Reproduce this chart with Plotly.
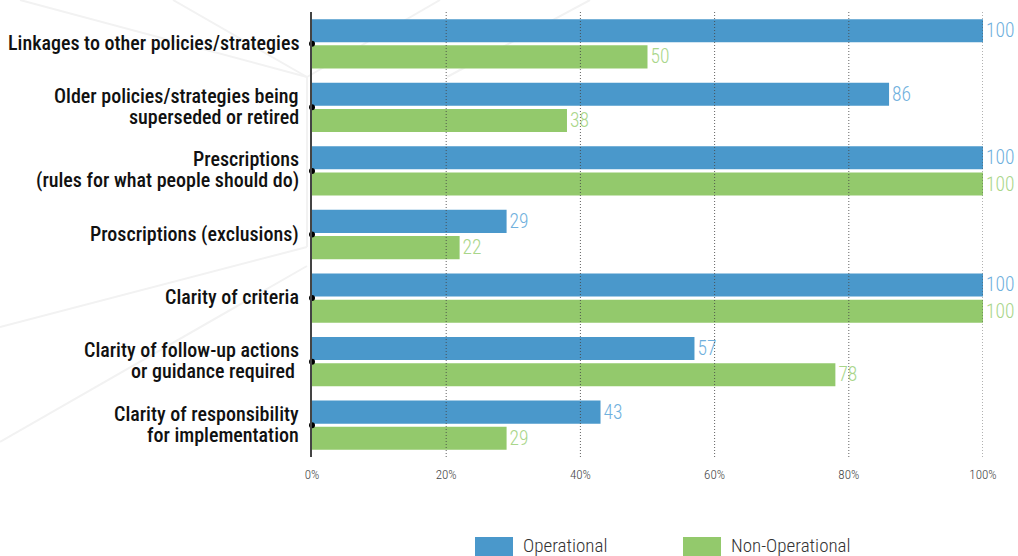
import plotly.graph_objects as go

# ---- data ----
categories = [
    "Linkages to other policies/strategies",
    "Older policies/strategies being<br>superseded or retired",
    "Prescriptions<br>(rules for what people should do)",
    "Proscriptions (exclusions)",
    "Clarity of criteria",
    "Clarity of follow-up actions<br>or guidance required\u00a0",
    "Clarity of responsibility<br>for implementation",
]
operational = [100, 86, 100, 29, 100, 57, 43]
non_operational = [50, 38, 100, 22, 100, 78, 29]
series_names = ["Operational", "Non-Operational"]
bar_colors = ["#4a98cb", "#93c96c"]
label_colors = ["#6fb0dd", "#a9d68a"]
x_ticks = [0, 20, 40, 60, 80, 100]
x_tick_labels = ["0%", "20%", "40%", "60%", "80%", "100%"]

FONT = "Roboto Condensed, DejaVu Sans Condensed, sans-serif"

W, H = 1018, 556
M_L, M_R, M_T, M_B = 312, 35, 12, 99
PW, PH = W - M_L - M_R, H - M_T - M_B


def px(x):
    return (x - M_L) / PW


def py(y):
    return (H - M_B - y) / PH


fig = go.Figure()
for name, vals, col, lcol in zip(series_names, [operational, non_operational],
                                 bar_colors, label_colors):
    fig.add_trace(go.Bar(
        y=categories, x=vals, name=name, orientation="h",
        marker=dict(color=col, line=dict(width=0)),
        text=vals, texttemplate="%{text}", textposition="outside",
        textfont=dict(family=FONT, size=19.5, weight=300, color=lcol),
        cliponaxis=False, showlegend=False,
    ))

# small dots marking each category on the axis
fig.add_trace(go.Scatter(
    x=[0] * len(categories), y=categories, mode="markers",
    marker=dict(color="black", size=6), cliponaxis=False,
    showlegend=False, hoverinfo="skip",
))

# category labels, one annotation per line for tight line spacing
annotations = []
LINE = 21
for cat in categories:
    lines = cat.split("<br>")
    n = len(lines)
    for i, line in enumerate(lines):
        annotations.append(dict(
            x=0, xref="paper", y=cat, yref="y", text=line,
            xanchor="right", yanchor="middle", xshift=-11,
            yshift=(n - 1) * LINE / 2 - i * LINE + 1,
            showarrow=False,
            font=dict(family=FONT, size=20, weight=500, color="#111"),
        ))

# legend drawn as boxes and labels beneath the chart
shapes = []
legend_x = [475, 683]
for name, col, lx in zip(series_names, bar_colors, legend_x):
    shapes.append(dict(type="rect", xref="paper", yref="paper",
                       x0=px(lx), x1=px(lx + 38), y0=py(537), y1=py(560),
                       fillcolor=col, line=dict(width=0), layer="above"))
    annotations.append(dict(x=px(lx + 46), y=py(545), xref="paper", yref="paper",
                            text=name, showarrow=False, xanchor="left",
                            yanchor="middle",
                            font=dict(family=FONT, size=19, weight=300,
                                      color="#333")))

# dotted gridlines drawn over the bars
for t in x_ticks[1:]:
    shapes.append(dict(type="line", xref="x", yref="paper", x0=t, x1=t,
                       y0=0, y1=1, layer="above",
                       line=dict(color="rgba(70,70,70,0.85)", width=1,
                                 dash="1px,2px")))

# faint geometric background lines
bg_lines = [
    ((20, 0), (307, 77)), ((173, 0), (307, 77)), ((307, 77), (307, 247)),
    ((0, 327), (307, 247)), ((0, 442), (307, 266)),
    ((307, 77), (440, 0)), ((447, 77), (590, 0)),
]
for (x0, y0), (x1, y1) in bg_lines:
    shapes.append(dict(type="line", xref="paper", yref="paper",
                       x0=px(x0), y0=py(y0), x1=px(x1), y1=py(y1),
                       layer="below", line=dict(color="#f2f2f2", width=2)))

fig.update_layout(
    width=W, height=H,
    margin=dict(l=M_L, r=M_R, t=M_T, b=M_B),
    paper_bgcolor="white", plot_bgcolor="rgba(0,0,0,0)",
    barmode="group", bargap=0.175, bargroupgap=0.12,
    showlegend=False,
    annotations=annotations, shapes=shapes,
    xaxis=dict(range=[0, 100], tickvals=x_ticks, ticktext=x_tick_labels,
               showgrid=False, zeroline=False, showline=False,
               ticks="", ticklabelstandoff=8,
               tickfont=dict(family=FONT, size=13, weight=300, color="#444")),
    yaxis=dict(autorange="reversed", showticklabels=False, ticks="",
               showgrid=False, zeroline=False,
               showline=True, linecolor="#444", linewidth=2),
)

fig.write_html("out.html")
